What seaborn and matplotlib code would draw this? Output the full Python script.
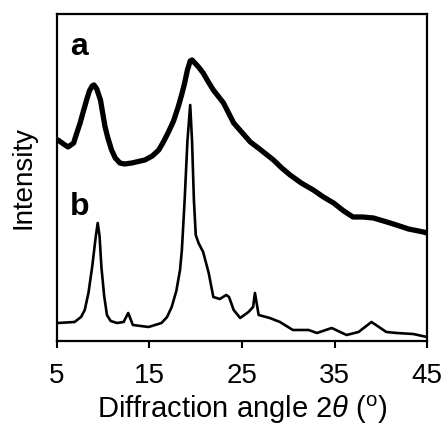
import matplotlib
matplotlib.use("Agg")
import matplotlib.pyplot as plt
import seaborn as sns
import pandas as pd

# Curve a (amorphous sample): diffraction angle (deg) and intensity (arb.)
angle_a = [5.0, 5.1, 5.7, 6.2, 6.8, 7.0, 7.5, 7.8, 8.2, 8.5, 8.8, 9.0, 9.3, 9.7,
           9.9, 10.2, 10.5, 10.9, 11.3, 11.8, 12.3, 13.1, 14.5, 15.3, 16.0,
           16.5, 17.0, 17.6, 18.1, 18.5, 18.8, 19.1, 19.4, 19.6, 19.9, 20.3,
           20.8, 21.3, 21.9, 23.0, 24.1, 25.9, 26.9, 28.4, 29.3, 30.2, 31.4,
           32.7, 33.8, 34.9, 36.0, 37.0, 38.0, 39.2, 40.3, 41.7, 43.0, 44.6, 45.0]
intensity_a = [201, 201, 197, 194, 198, 204, 218, 228, 241, 250, 255, 256, 252,
               241, 230, 214, 203, 191, 183, 178, 177, 178, 181, 185, 191,
               199, 208, 220, 234, 247, 258, 271, 280, 281, 278, 274,
               268, 260, 251, 238, 218, 199, 192, 181, 173, 166, 158,
               151, 144, 138, 130, 124, 124, 123, 120, 116, 112, 109, 108]

# Curve b (crystalline sample)
angle_b = [5.0, 5.1, 6.9, 7.6, 8.0, 8.4, 8.8, 9.2, 9.4, 9.6, 9.8, 10.1, 10.4,
           10.8, 11.5, 12.2, 12.7, 13.2, 14.9, 16.3, 16.9, 17.4, 17.9, 18.3,
           18.5, 18.8, 19.1, 19.4, 19.6, 19.8, 20.0, 20.3, 20.8, 21.4, 21.9,
           22.6, 23.3, 23.6, 24.1, 24.8, 25.7, 26.2, 26.4, 26.8, 28.0, 29.1,
           30.5, 32.2, 33.1, 34.7, 36.3, 37.6, 39.0, 40.6, 41.7, 43.5, 45.0]
intensity_b = [18, 18, 19, 24, 31, 48, 74, 105, 118, 105, 74, 45, 26,
               20, 18, 19, 28, 16, 14, 18, 24, 34, 50, 71,
               91, 141, 200, 236, 200, 141, 106, 98, 89, 68, 44,
               42, 46, 44, 31, 23, 29, 34, 48, 26, 23, 19,
               11, 11, 8, 13, 6, 9, 19, 9, 8, 7, 4]

curve_labels = ["a", "b"]
x_ticks = [5, 15, 25, 35, 45]

df_a = pd.DataFrame({"angle": angle_a, "intensity": intensity_a})
df_b = pd.DataFrame({"angle": angle_b, "intensity": intensity_b})

sns.set_style("white")
plt.rcParams["font.family"] = ["Liberation Sans", "DejaVu Sans"]
plt.rcParams["mathtext.fontset"] = "custom"
plt.rcParams["mathtext.rm"] = "Liberation Sans"
plt.rcParams["mathtext.it"] = "Liberation Sans:italic"
plt.rcParams["text.color"] = "black"
plt.rcParams["axes.labelcolor"] = "black"
plt.rcParams["xtick.color"] = "black"
plt.rcParams["ytick.color"] = "black"

fig = plt.figure(figsize=(4.46, 4.30), dpi=100)
ax = fig.add_axes([0.1278, 0.207, 0.8296, 0.7605])

sns.lineplot(data=df_a, x="angle", y="intensity", ax=ax, color="black",
             linewidth=3.8, estimator=None, sort=False)
sns.lineplot(data=df_b, x="angle", y="intensity", ax=ax, color="black",
             linewidth=1.9, estimator=None, sort=False)

ax.text(6.4, 286, curve_labels[0], fontsize=23, fontweight="bold",
        ha="left", va="baseline", color="black")
ax.text(6.4, 126, curve_labels[1], fontsize=23, fontweight="bold",
        ha="left", va="baseline", color="black")

ax.set_xlim(5, 45)
ax.set_ylim(0, 327)
ax.set_xticks(x_ticks)
ax.set_xticklabels([str(t) for t in x_ticks])
ax.set_yticks([])
ax.tick_params(axis="x", direction="out", length=5, width=1.5, pad=11,
               labelsize=20, bottom=True, colors="black")
for s in ax.spines.values():
    s.set_linewidth(1.6)
    s.set_color("black")

ax.set_xlabel(r"Diffraction angle 2$\theta$ ($^{\mathrm{o}}$)", fontsize=21,
              labelpad=3, color="black")
ax.set_ylabel("Intensity", fontsize=20, labelpad=15, color="black")

fig.savefig("out.png", dpi=100, facecolor="white")
